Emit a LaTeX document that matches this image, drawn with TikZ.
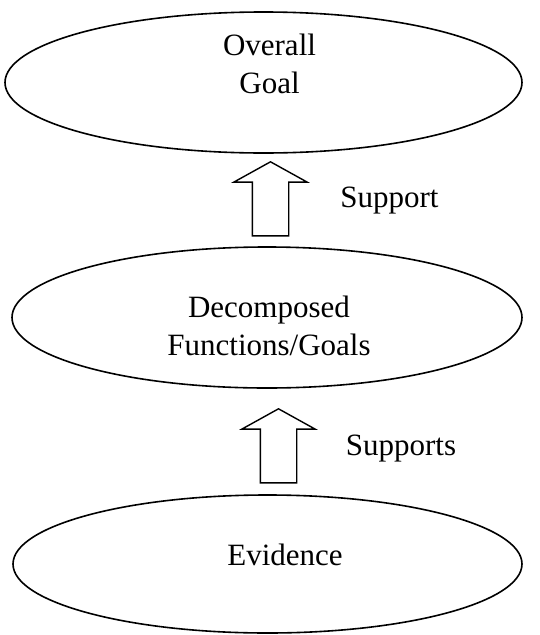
\documentclass[tikz,border=0pt]{standalone}
\usepackage{fontspec}
\setmainfont{Liberation Serif}
\usetikzlibrary{shapes.geometric,shapes.arrows}

\tikzset{
  blob/.style={ellipse,draw,line width=1.6pt,inner sep=0pt},
  uparrow/.style={single arrow,draw,line width=1.4pt,rotate=90,
    inner xsep=0pt,inner ysep=17.5pt,
    minimum height=74,minimum width=72,single arrow head extend=18.5,
    single arrow tip angle=122,anchor=tip},
  txt/.style={font=\fontsize{31}{38}\selectfont,align=center,inner sep=0pt}
}

\begin{document}
\begin{tikzpicture}[x=1pt,y=-1pt]
\useasboundingbox (0,0) rectangle (539,635);

%the three levels
\foreach \n/\x/\y/\w/\h in {goal/263.5/82.5/517/141,func/267/317.5/510/141,evid/267.5/564/509/138}{
	\node[blob,minimum width=\w,minimum height=\h] (\n) at (\x,\y) {};
}
\node[txt] (goaltxt) at (269.5,64) {Overall\\Goal};
\node[txt] (functxt) at (269,326) {Decomposed\\Functions/Goals};
\node[txt,anchor=base] (evidtxt) at (285,565) {Evidence};

%block arrows between the levels
\node[uparrow] (arr1) at (270.5,161) {};
\node[uparrow] (arr2) at (278.5,408) {};
\node[txt,anchor=base] (sup1) at (389.5,207) {Support};
\node[txt,anchor=base] (sup2) at (401,455) {Supports};
\end{tikzpicture}
\end{document}
